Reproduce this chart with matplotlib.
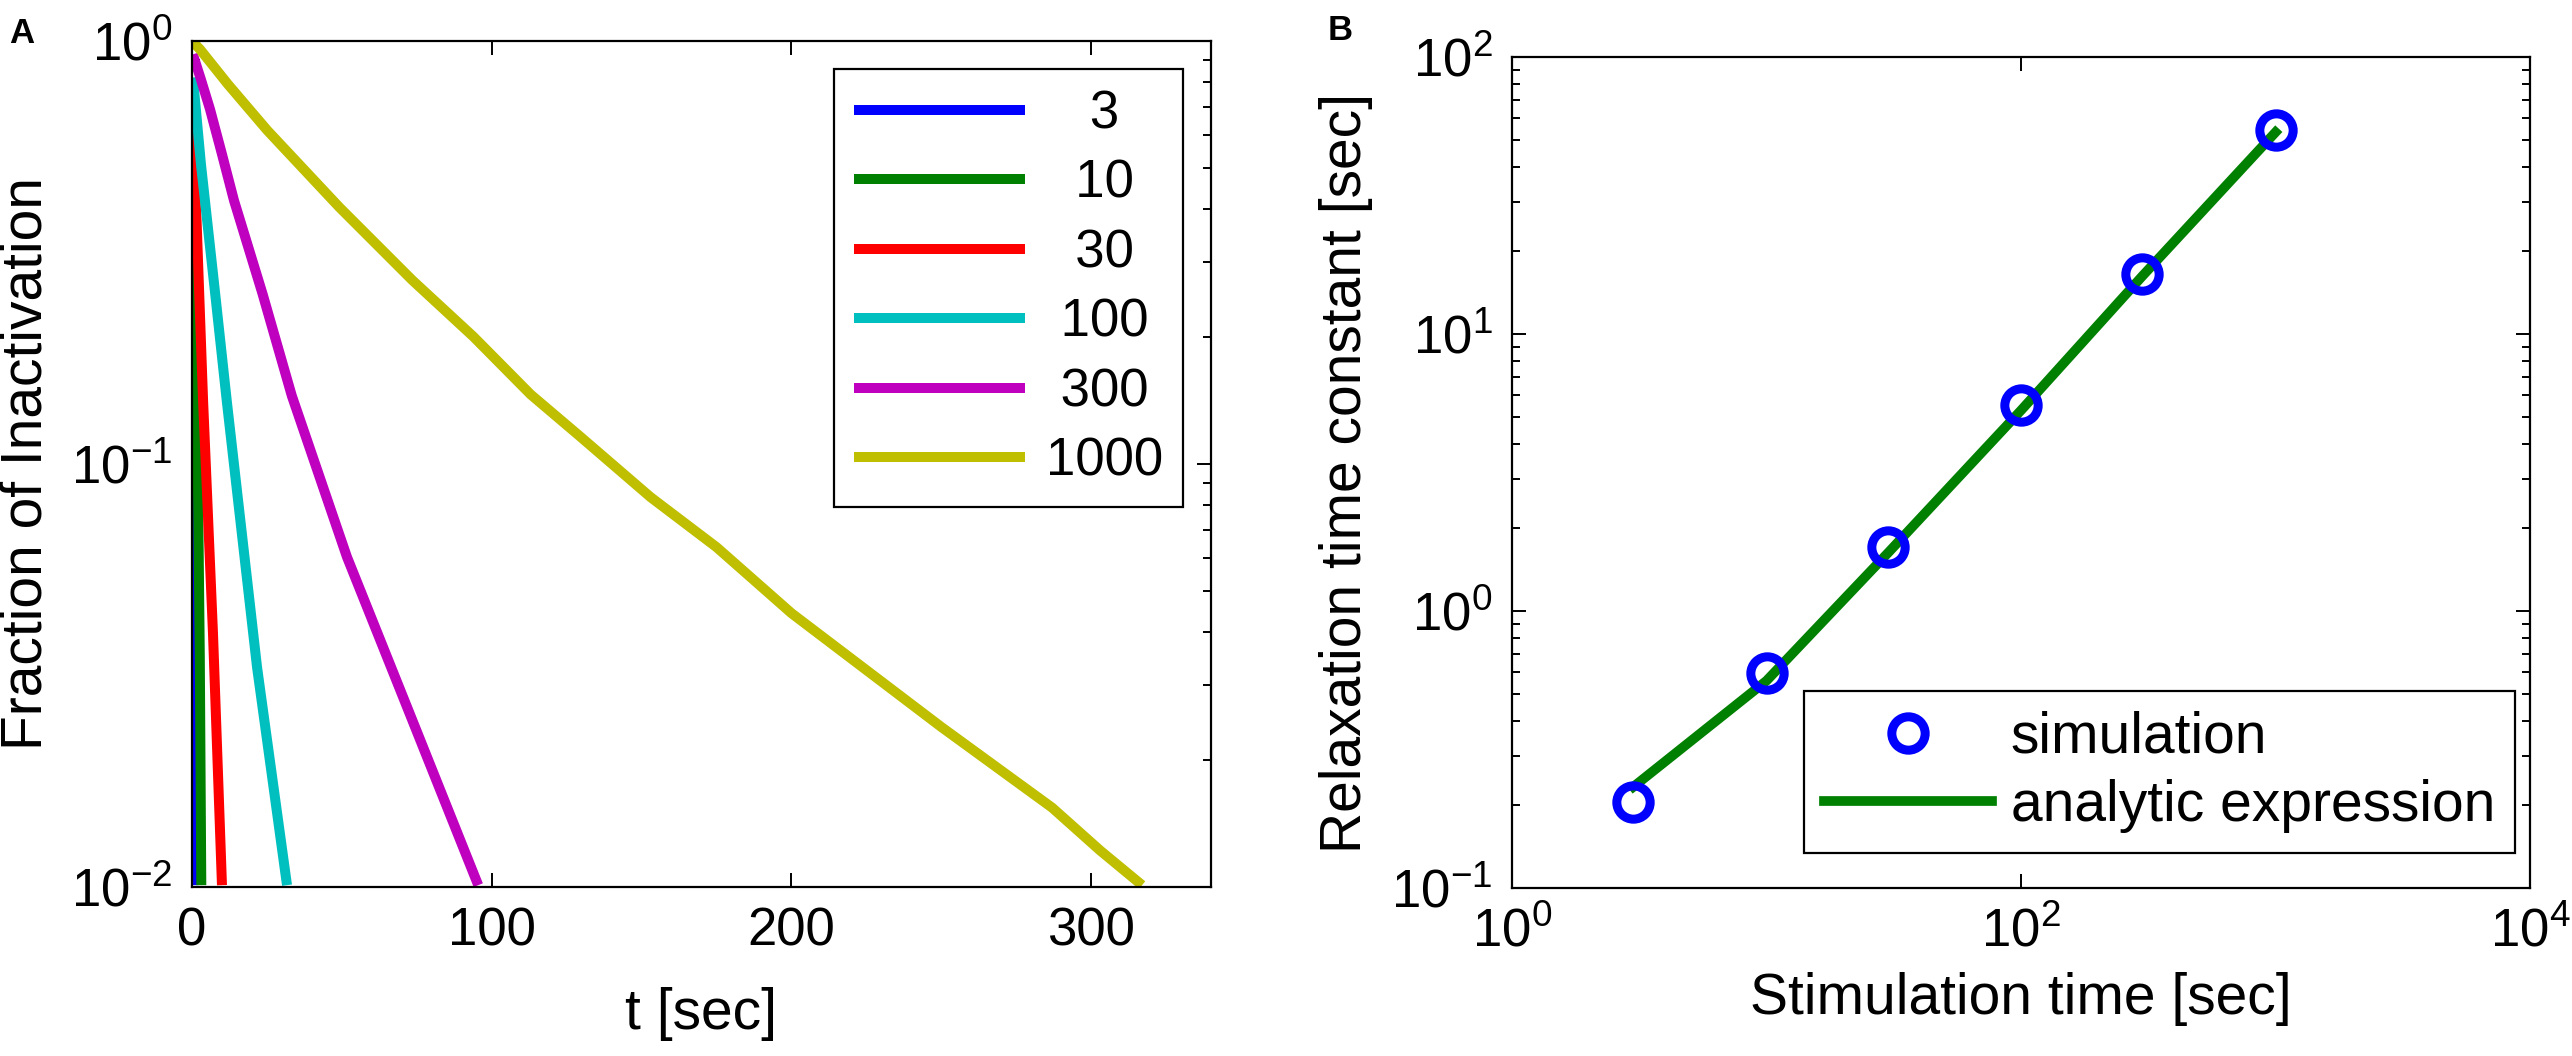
import matplotlib
matplotlib.use("Agg")
import matplotlib.pyplot as plt
from matplotlib.ticker import LogLocator, NullLocator, NullFormatter, FixedLocator

plt.rcParams['font.family'] = ['Liberation Sans', 'DejaVu Sans']
plt.rcParams['mathtext.fontset'] = 'custom'
plt.rcParams['mathtext.rm'] = 'Liberation Sans'
plt.rcParams['mathtext.it'] = 'Liberation Sans:italic'
plt.rcParams['mathtext.bf'] = 'Liberation Sans:bold'

# panel A: fraction of inactivation vs time, one curve per stimulation time
labels = ['3', '10', '30', '100', '300', '1000']
colors = ['#0000ff', '#008000', '#ff0000', '#00bfbf', '#bf00bf', '#bfbf00']

t_3 = [0.0, 0.25, 0.5]
f_3 = [0.15, 0.04, 0.0101]
t_10 = [0.0, 0.5, 1.7, 2.6, 3.1]
f_10 = [0.4, 0.28, 0.141, 0.035, 0.0101]
t_30 = [0.0, 1.5, 3.7, 7.0, 10.0]
f_30 = [0.61, 0.38, 0.141, 0.0398, 0.0101]
t_100 = [0.3, 3.0, 7.7, 11.6, 21.7, 31.7]
f_100 = [0.82, 0.51, 0.254, 0.141, 0.0331, 0.0101]
t_300 = [0.3, 3.0, 6.0, 10.0, 14.0, 23.5, 33.3, 51.7, 74.0, 95.5]
f_300 = [0.93, 0.81, 0.69, 0.54, 0.42, 0.253, 0.145, 0.0603, 0.0243, 0.0101]
t_1000 = [0.0, 2.7, 12.0, 25.1, 49.1, 73.5, 93.9, 113.0, 129.6, 153.0, 175.0,
          200.0, 250.0, 287.0, 303.0, 317.0]
f_1000 = [1.0, 0.955, 0.79, 0.615, 0.405, 0.272, 0.2, 0.146, 0.116, 0.0835, 0.0636,
          0.0444, 0.0239, 0.0154, 0.0122, 0.0101]

curves_t = [t_3, t_10, t_30, t_100, t_300, t_1000]
curves_f = [f_3, f_10, f_30, f_100, f_300, f_1000]

# panel B: relaxation time constant vs stimulation time
stim_time = [3, 10, 30, 100, 300, 1000]
tau_sim = [0.205, 0.597, 1.70, 5.56, 16.5, 54.7]
tau_analytic = [0.232, 0.56, 1.62, 5.3, 16.2, 53.5]

W, H = 2572, 1056
fig = plt.figure(figsize=(W / 100, H / 100), dpi=100)

tick_fs = 38
label_fs = 41


def style_axes(ax):
    for s in ax.spines.values():
        s.set_linewidth(1.6)
    ax.tick_params(which='both', direction='in', top=True, right=True,
                   labelsize=tick_fs, width=1.4)
    ax.tick_params(which='major', length=10, pad=14)
    ax.tick_params(which='minor', length=6)


# ---- A ----
axA = fig.add_axes([192 / W, 1 - 887 / H, (1211 - 192) / W, (887 - 41) / H])
for t, f, c, lab in zip(curves_t, curves_f, colors, labels):
    axA.plot(t, f, color=c, lw=7.2, label=lab, solid_capstyle='butt', zorder=2)
axA.set_yscale('log')
axA.set_xlim(0, 340)
axA.set_ylim(1e-2, 1e0)
axA.set_xticks([0, 100, 200, 300])
axA.yaxis.set_minor_locator(LogLocator(base=10, subs=range(2, 10)))
axA.yaxis.set_minor_formatter(NullFormatter())
style_axes(axA)
axA.set_xlabel('t [sec]', fontsize=label_fs, labelpad=22)
axA.set_ylabel('Fraction of Inactivation', fontsize=label_fs)
axA.yaxis.set_label_coords((53 - 192) / (1211 - 192), 0.5)

pad_labels = ['   3', '  10', '  30', ' 100', ' 300', '1000']
hA, _ = axA.get_legend_handles_labels()
legA = axA.legend(hA, pad_labels, loc='upper right',
                  bbox_to_anchor=(1183 / W, 1 - 69 / H), bbox_transform=fig.transFigure,
                  fontsize=tick_fs, frameon=True, fancybox=False, framealpha=1,
                  edgecolor='black', handlelength=3.24, handletextpad=0.4,
                  labelspacing=0.37, borderpad=0.38, borderaxespad=0)
legA.get_frame().set_linewidth(1.6)

fig.text(9 / W, 1 - 17 / H, 'A', fontsize=25, fontweight='bold', va='top', ha='left')

# ---- B ----
axB = fig.add_axes([1512 / W, 1 - 888 / H, (2530 - 1512) / W, (888 - 57) / H])
axB.plot(stim_time, tau_analytic, color='#008000', lw=7.0, zorder=2,
         label='analytic expression')
axB.plot(stim_time, tau_sim, linestyle='none', marker='o', markersize=24,
         markerfacecolor='none', markeredgecolor='#0000ff', markeredgewidth=6.5,
         zorder=3, label='simulation')
axB.set_xscale('log')
axB.set_yscale('log')
axB.set_xlim(1, 1e4)
axB.set_ylim(1e-1, 1e2)
axB.xaxis.set_major_locator(FixedLocator([1, 100, 10000]))
axB.xaxis.set_minor_locator(NullLocator())
axB.yaxis.set_minor_locator(LogLocator(base=10, subs=range(2, 10)))
axB.yaxis.set_minor_formatter(NullFormatter())
style_axes(axB)
axB.set_xlabel('Stimulation time [sec]', fontsize=label_fs, labelpad=10)
axB.set_ylabel('Relaxation time constant [sec]', fontsize=label_fs)
axB.yaxis.set_label_coords((1373 - 1512) / (2530 - 1512), 0.5)

hB, lB = axB.get_legend_handles_labels()
legB = axB.legend(hB[::-1], lB[::-1], loc='upper right',
                  bbox_to_anchor=(2515 / W, 1 - 691 / H), bbox_transform=fig.transFigure,
                  fontsize=label_fs, frameon=True, fancybox=False, framealpha=1,
                  edgecolor='black', handlelength=2.96, handletextpad=0.32,
                  labelspacing=0.24, borderpad=0.35, borderaxespad=0, numpoints=1)
legB.get_frame().set_linewidth(1.6)

fig.text(1328 / W, 1 - 14 / H, 'B', fontsize=25, fontweight='bold', va='top', ha='left')

fig.savefig('out.png', dpi=100)
